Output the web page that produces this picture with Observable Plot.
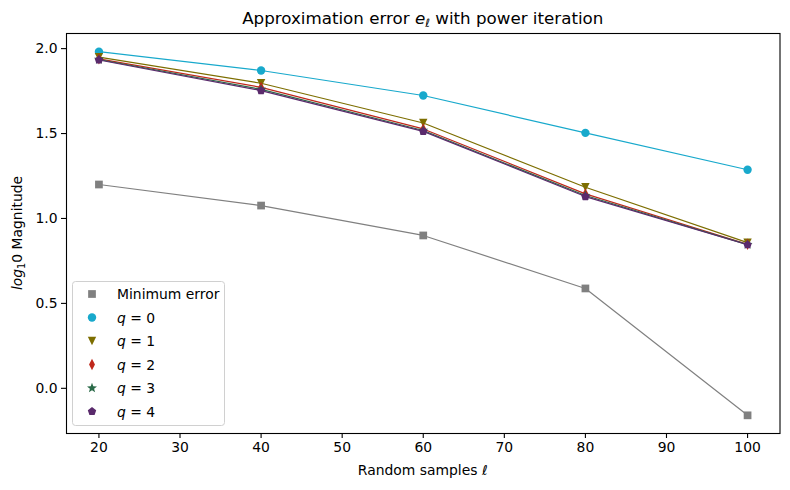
<!DOCTYPE html>
<html>
<head>
<meta charset="utf-8">
<script src="https://cdn.jsdelivr.net/npm/d3@7"></script>
<script src="https://cdn.jsdelivr.net/npm/@observablehq/plot@0.6"></script>
<style>
  html, body { margin: 0; padding: 0; background: white; }
  #chart svg { display: block; }
</style>
</head>
<body>
<div id="chart"></div>
<script>
// ---- data ----
const samples = [20, 40, 60, 80, 100];
const minError = [1.200, 1.076, 0.900, 0.588, -0.159];
const q0 = [1.982, 1.871, 1.724, 1.504, 1.287];
const q1 = [1.950, 1.796, 1.562, 1.184, 0.858];
const q2 = [1.940, 1.772, 1.527, 1.145, 0.848];
const q3 = [1.936, 1.760, 1.518, 1.135, 0.846];
const q4 = [1.933, 1.753, 1.513, 1.129, 0.845];
const seriesNames = ["Minimum error", "q = 0", "q = 1", "q = 2", "q = 3", "q = 4"];
const xTicks = [20, 30, 40, 50, 60, 70, 80, 90, 100];
const yTicks = [0.0, 0.5, 1.0, 1.5, 2.0];

// ---- symbols (matplotlib-like markers) ----
const R = 4.2;
const rad = size => Math.sqrt(size / Math.PI);
const symSquare = { draw(ctx, size) { const h = rad(size) * 0.92; ctx.rect(-h, -h, 2 * h, 2 * h); } };
const symCircle = { draw(ctx, size) { const r = rad(size); ctx.moveTo(r, 0); ctx.arc(0, 0, r, 0, 2 * Math.PI); } };
const symTriDown = { draw(ctx, size) { const r = rad(size); ctx.moveTo(0, r); ctx.lineTo(-r, -r); ctx.lineTo(r, -r); ctx.closePath(); } };
const symThinDiamond = { draw(ctx, size) { const r = rad(size); ctx.moveTo(0, -1.35 * r); ctx.lineTo(0.7 * r, 0); ctx.lineTo(0, 1.35 * r); ctx.lineTo(-0.7 * r, 0); ctx.closePath(); } };
const symStar = { draw(ctx, size) { const r = rad(size) * 1.25, ri = r * 0.42;
  for (let i = 0; i < 10; i++) { const a = -Math.PI / 2 + i * Math.PI / 5; const rr = i % 2 ? ri : r;
    const x = rr * Math.cos(a), y = rr * Math.sin(a); i ? ctx.lineTo(x, y) : ctx.moveTo(x, y); } ctx.closePath(); } };
const symPentagon = { draw(ctx, size) { const r = rad(size) * 1.05;
  for (let i = 0; i < 5; i++) { const a = -Math.PI / 2 + i * 2 * Math.PI / 5;
    const x = r * Math.cos(a), y = r * Math.sin(a); i ? ctx.lineTo(x, y) : ctx.moveTo(x, y); } ctx.closePath(); } };

const colors = ["#808080", "#18a9cc", "#7d6e00", "#c0281b", "#2a6a48", "#5a2a6c"];
const symbols = [symSquare, symCircle, symTriDown, symThinDiamond, symStar, symPentagon];
const values = [minError, q0, q1, q2, q3, q4];

const rows = values.map((vals, i) => samples.map((s, j) => ({ x: s, y: vals[j], series: seriesNames[i] })));

const marks = [];
rows.forEach((data, i) => {
  marks.push(Plot.line(data, { x: "x", y: "y", stroke: colors[i], strokeWidth: 1.2 }));
  marks.push(Plot.dot(data, { x: "x", y: "y", symbol: symbols[i], r: R, fill: colors[i], stroke: "none" }));
});

const chart = Plot.plot({
  width: 790,
  height: 490,
  marginLeft: 66,
  marginRight: 10.5,
  marginTop: 33,
  marginBottom: 57,
  style: { fontFamily: "DejaVu Sans", fontSize: "13.9px", color: "black", background: "white" },
  x: { domain: [16, 104] },
  y: { domain: [-0.266, 2.089] },
  marks: [
    ...marks,
    Plot.axisX({ ticks: xTicks, tickFormat: "d", tickSize: 5, tickPadding: 4, label: null, strokeWidth: 1.1 }),
    Plot.axisY({ ticks: yTicks, tickFormat: d3.format(".1f"), tickSize: 5, tickPadding: 4, label: null, strokeWidth: 1.1 }),
    Plot.frame({ stroke: "black", strokeWidth: 1.1 })
  ]
});
document.getElementById("chart").appendChild(chart);

// ---- titles / labels ----
const svg = d3.select(chart);
const cx = (66 + 779.5) / 2;
const title = svg.append("text").attr("x", cx).attr("y", 24).attr("text-anchor", "middle")
  .style("font-size", "16.7px").style("font-family", "DejaVu Sans").attr("fill", "black");
title.append("tspan").text("Approximation error ");
title.append("tspan").text("e").style("font-style", "italic");
title.append("tspan").text("ℓ").style("font-style", "italic").style("font-size", "11.5px").attr("dy", 3);
title.append("tspan").text(" with power iteration").attr("dy", -3);

const xl = svg.append("text").attr("x", cx).attr("y", 475).attr("text-anchor", "middle")
  .style("font-size", "13.9px").style("font-family", "DejaVu Sans").attr("fill", "black");
xl.append("tspan").text("Random samples ");
xl.append("tspan").text("ℓ").style("font-style", "italic");

const yl = svg.append("text").attr("transform", `translate(22,233) rotate(-90)`).attr("text-anchor", "middle")
  .style("font-size", "13.9px").style("font-family", "DejaVu Sans").attr("fill", "black");
yl.append("tspan").text("log").style("font-style", "italic");
yl.append("tspan").text("1").style("font-size", "9.7px").attr("dy", 3);
yl.append("tspan").text("0 Magnitude").attr("dy", -3);

// ---- legend ----
const lg = svg.append("g");
lg.append("rect").attr("x", 72.5).attr("y", 281.5).attr("width", 152).attr("height", 144)
  .attr("rx", 3).attr("fill", "white").attr("fill-opacity", 0.8).attr("stroke", "#d0d0d0").attr("stroke-width", 1);
const rowY = [294, 317.5, 341, 364.5, 388, 411.5];
seriesNames.forEach((name, i) => {
  lg.append("path").attr("transform", `translate(92,${rowY[i]})`)
    .attr("d", d3.symbol().type(symbols[i]).size(Math.PI * R * R)())
    .attr("fill", colors[i]);
  const t = lg.append("text").attr("x", 117).attr("y", rowY[i] + 5).attr("text-anchor", "start")
    .style("font-size", "13.9px").style("font-family", "DejaVu Sans").attr("fill", "black");
  if (i === 0) t.text(name);
  else {
    t.append("tspan").text("q").style("font-style", "italic");
    t.append("tspan").text(" = " + (i - 1));
  }
});
</script>
</body>
</html>
